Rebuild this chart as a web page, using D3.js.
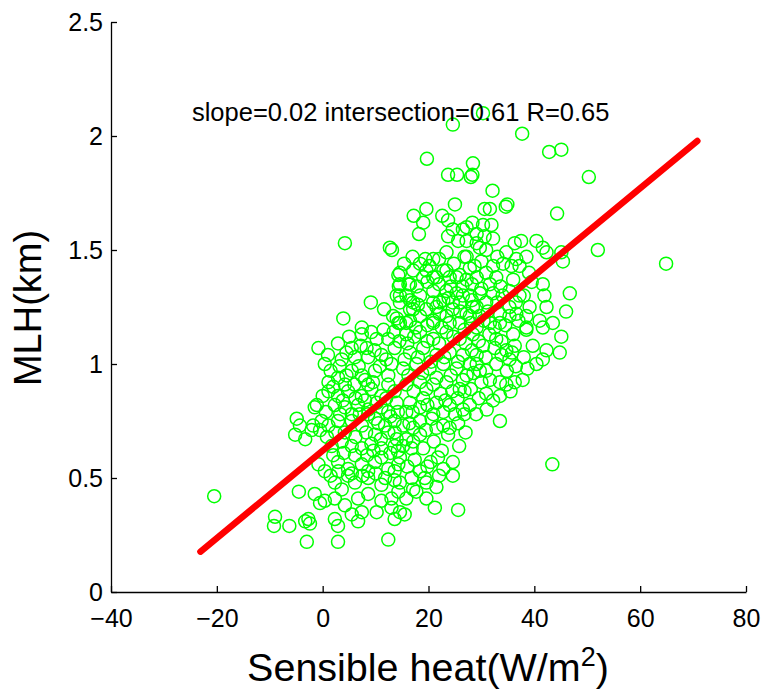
<!DOCTYPE html>
<html>
<head>
<meta charset="utf-8">
<style>
  body { margin: 0; background: white; font-family: "Liberation Sans", Arial, sans-serif; }
  svg { display: block; }
</style>
<script src="https://cdn.jsdelivr.net/npm/d3@7"></script>
</head>
<body>
<svg id="chart"></svg>
<script>

// sensible heat (W/m2), MLH (km)
let samples = [
  [-20.5,0.42],[-9.0,0.33],[-9.2,0.29],[-6.3,0.29],
  [-3.0,0.22],[2.9,0.22],[12.4,0.23],
  [-2.7,0.32],[-2.4,0.30],[-3.3,0.31],[2.3,0.32],[2.9,0.29],[5.5,0.34],[6.7,0.31],[7.4,0.35],[10.2,0.35],[13.0,0.37],[13.6,0.32],
  [-4.5,0.44],[-1.5,0.43],[0.4,0.40],[2.3,0.41],[4.2,0.38],[6.7,0.41],[8.6,0.43],[11.1,0.40],[13.0,0.41],[14.3,0.44],[-0.5,0.39],
  [2.3,0.48],[3.6,0.45],[6.1,0.48],[8.6,0.50],[11.1,0.47],[13.6,0.49],[4.8,0.51],[8.6,0.53],[13.6,0.53],
  [-0.8,0.56],[0.4,0.53],[2.9,0.57],[4.8,0.54],[7.4,0.56],[9.9,0.57],[12.4,0.54],[14.3,0.56],[6.1,0.60],[11.1,0.59],
  [1.7,0.64],[3.6,0.66],[5.5,0.64],[7.4,0.63],[9.2,0.65],[11.1,0.63],[13.6,0.64],
  [-4.9,0.76],[-4.3,0.73],[-5.2,0.69],[-3.3,0.67],[-1.8,0.73],[-0.5,0.71],[-2.1,0.71],
  [-0.2,0.75],[1.1,0.73],[2.9,0.75],[5.5,0.75],[7.4,0.73],[9.9,0.76],[11.8,0.73],[13.6,0.75],[4.2,0.70],[9.9,0.69],[13.6,0.70],
  [-1.1,0.82],[-1.5,0.81],[2.3,0.82],[4.2,0.81],[6.7,0.82],[8.6,0.80],[11.1,0.81],[5.5,0.78],[8.6,0.78],[12.4,0.79],
  [1.1,0.88],[2.9,0.86],[4.8,0.88],[7.4,0.86],[9.2,0.89],[11.1,0.86],[13.6,0.88],[4.2,0.91],[8.6,0.91],[12.4,0.91],
  [1.1,0.92],[2.9,0.94],[5.5,0.97],[7.4,0.95],[9.9,0.97],[12.4,0.95],
  [0.4,1.00],[3.6,1.02],[6.1,1.03],[8.6,1.03],[11.1,1.04],
  [-0.8,1.07],[2.9,1.09],[5.5,1.07],[8.3,1.07],[10.2,1.11],[12.4,1.11],[7.4,1.13],
  [7.4,1.16],[3.9,1.20],[9.1,1.27],[11.6,1.24],[14.0,1.20],[14.3,1.18],
  [4.2,1.53],[12.7,1.51],[13.1,1.50],[14.3,1.39],[14.4,1.34],[14.6,1.30],
  [24.6,2.05],[30.3,2.10],[37.7,2.01],[19.7,1.90],[42.8,1.93],[45.1,1.94],[50.3,1.82],[28.4,1.88],
  [23.7,1.83],[25.4,1.83],[28.0,1.82],[28.3,1.83],[32.1,1.76],[25.0,1.70],[19.6,1.68],[17.2,1.65],
  [19.0,1.62],[18.2,1.57],[30.6,1.68],[31.6,1.68],[34.6,1.69],[34.9,1.70],[44.3,1.66],[22.6,1.65],
  [23.7,1.63],[28.3,1.62],[30.3,1.61],[31.9,1.61],[24.6,1.59],[26.5,1.59],[27.2,1.60],[29.1,1.53],
  [23.7,1.56],[25.6,1.54],[27.2,1.54],[29.1,1.57],[30.6,1.56],[32.2,1.55],
  [23.4,1.49],[27.2,1.47],[29.7,1.51],[30.9,1.50],
  [36.3,1.53],[37.5,1.54],[40.4,1.54],[41.6,1.51],[42.3,1.49],
  [34.7,1.49],[36.6,1.46],[38.5,1.47],[34.1,1.44],[35.7,1.43],[37.2,1.43],
  [45.1,1.49],[45.4,1.45],[52.0,1.50],[64.9,1.44],
  [18.4,1.44],[20.2,1.43],[21.5,1.38],[22.8,1.41],[24.0,1.38],[25.9,1.39],[27.2,1.37],[29.1,1.38],[30.9,1.40],[32.8,1.38],[31.6,1.35],
  [16.2,1.35],[15.8,1.30],[18.4,1.30],[20.9,1.32],[23.4,1.32],[25.3,1.31],[27.8,1.30],[29.7,1.31],[32.2,1.31],[35.3,1.32],
  [37.2,1.30],[39.1,1.25],[41.6,1.35],[41.9,1.30],[42.3,1.25],[46.7,1.31],[46.0,1.23],
  [16.5,1.24],[19.6,1.24],[22.1,1.22],[24.6,1.24],[27.2,1.22],[29.7,1.21],[33.5,1.22],[35.3,1.21],[38.5,1.21],[41.0,1.19],[43.5,1.18],
  [20.9,1.18],[24.0,1.18],[31.6,1.18],[38.5,1.16],[15.8,1.18],
  [17.1,1.41],[19.0,1.38],[17.1,1.27],[22.1,1.27],[25.9,1.27],[29.1,1.25],[30.9,1.27],[35.3,1.25],[18.4,1.21],[25.9,1.18],
  [29.1,1.16],[33.5,1.18],[36.6,1.22],
  [14.6,1.40],[14.6,1.35],[16.5,1.35],[19.6,1.41],[20.9,1.46],[20.9,1.38],[23.4,1.41],[25.3,1.38],[26.8,1.47],[28.7,1.43],
  [14.0,1.30],[14.6,1.27],[16.5,1.28],[17.1,1.24],[20.9,1.27],[22.8,1.28],[24.6,1.27],[26.5,1.30],[28.4,1.25],
  [13.3,1.21],[14.6,1.18],[16.5,1.19],[20.9,1.19],[23.4,1.21],[27.8,1.21],
  [45.1,1.12],[44.8,1.05],[42.3,1.06],[39.7,1.08],[38.5,1.15],[41.6,1.16],[40.4,1.00],[41.6,1.02],
  [36.3,1.08],[35.3,1.02],[34.7,1.06],[32.8,1.11],[32.5,1.07],
  [37.8,0.93],[36.3,0.92],[34.7,0.91],[33.5,0.86],[30.9,0.87],[33.5,0.75],[43.4,0.56],
  [32.8,1.00],[30.9,0.97],[31.6,0.93],[33.5,0.92],
  [27.2,0.95],[29.1,1.00],[25.9,0.89],[26.8,0.88],
  [26.5,0.80],[26.8,0.78],[25.0,0.78],[24.0,0.82],
  [24.0,0.72],[23.7,0.69],[22.8,0.73],
  [24.6,0.57],[22.8,0.54],[24.6,0.51],
  [21.5,0.46],[19.6,0.41],[21.2,0.37],[25.6,0.36],
  [17.4,0.58],[19.3,0.50],[17.1,0.45],[15.8,0.41],[15.5,0.34],
  [18.4,0.75],[20.6,0.76],[17.1,0.72],[15.8,0.67],[16.8,0.63],
  [15.8,1.13],[18.4,1.14],[20.9,1.11],[23.4,1.14],[25.9,1.11],[28.4,1.13],[30.3,1.08],
  [16.5,1.05],[19.0,1.07],[21.5,1.04],[24.0,1.05],[26.5,1.04],[29.1,1.04],
  [15.2,0.98],[17.7,1.00],[20.2,0.98],[22.8,1.00],[25.3,0.98],[27.8,1.00],[29.7,0.97],
  [15.8,0.91],[18.4,0.92],[20.9,0.91],[23.4,0.92],
  [16.5,0.83],[19.0,0.85],[21.5,0.83],[22.8,0.79],[20.9,0.78],[15.8,0.79],[18.4,0.81],
  [15.2,0.73],[18.4,0.69],[15.2,0.64],[17.1,0.66],[14.6,0.59],[18.4,0.53],[14.6,0.48],[17.7,0.44],[19.6,0.48],[14.6,0.35],
  // dense core, overlapping rings
  [1.5,0.97],[3.2,0.99],[4.5,0.95],[6.8,0.99],[8.0,0.93],[9.5,0.92],[10.8,0.99],[13.0,1.00],
  [0.0,0.86],[2.0,0.90],[3.8,0.84],[6.0,0.91],[6.2,0.85],[8.0,0.84],[10.2,0.83],[12.0,0.85],[14.0,0.83],
  [0.6,0.79],[3.3,0.78],[7.0,0.78],[10.5,0.74],[12.8,0.77],[14.2,0.79],
  [0.8,0.68],[2.4,0.70],[6.2,0.68],[8.2,0.70],[11.0,0.67],[12.4,0.70],[14.0,0.67],
  [2.0,0.60],[4.0,0.61],[8.4,0.60],[9.6,0.62],[12.8,0.61],[14.2,0.62],
  [1.5,0.51],[5.5,0.52],[7.5,0.51],[10.0,0.52],[11.8,0.50],[3.0,0.53],
  [1.0,1.04],[4.5,1.05],[7.2,1.08],[9.8,1.06],[12.0,1.02],[13.6,1.07],[14.5,1.10],[5.0,1.12],[9.2,1.14],[11.5,1.15],[13.4,1.14],
  [16.0,1.09],[17.3,1.12],[19.8,1.10],[22.0,1.09],[24.7,1.12],[27.0,1.09],[29.5,1.10],[31.5,1.13],[33.8,1.10],[36.0,1.13],
  [15.5,1.02],[18.0,1.03],[20.5,1.01],[23.0,1.03],[25.6,1.01],[28.2,1.06],[30.8,1.03],[33.8,1.04],[35.8,1.05],[38.0,1.03],
  [16.2,0.95],[18.8,0.96],[21.5,0.94],[24.2,0.95],[26.5,0.93],[28.5,0.96],[30.0,0.92],[34.8,0.97],[36.5,0.99],[38.7,0.98],
  [17.2,0.88],[19.6,0.89],[22.3,0.87],[24.5,0.88],[28.0,0.89],[29.5,0.85],[32.2,0.84],[35.5,0.88],
  [17.0,0.79],[19.8,0.82],[23.2,0.84],[25.5,0.85],[27.8,0.82],[29.0,0.78],[31.0,0.80],
  [16.4,0.74],[19.5,0.71],[21.5,0.72],[25.6,0.74],[27.0,0.70],[21.0,0.66],[19.0,0.63],[22.5,0.62],[25.8,0.64],
  [16.0,0.55],[20.4,0.57],[21.8,0.59],[19.8,0.55],[22.0,0.51],[16.8,0.50],
  [17.6,1.16],[19.8,1.17],[22.5,1.16],[26.8,1.15],[28.0,1.18],[30.4,1.19],[32.5,1.16],[34.5,1.17],[37.0,1.19],
  [18.0,1.26],[21.5,1.25],[23.8,1.29],[26.0,1.23],[28.2,1.28],[31.2,1.23],[33.0,1.27],[34.0,1.30],[36.5,1.27],[38.0,1.30],
  [17.8,1.34],[19.8,1.36],[22.0,1.35],[24.2,1.34],[26.4,1.34],[28.2,1.35],[30.0,1.33],[33.6,1.34],[36.0,1.37],[39.5,1.36],
  [15.4,1.44],[17.0,1.47],[19.4,1.46],[22.0,1.46],[24.8,1.44],[27.8,1.42],[30.0,1.45],[32.2,1.43],[33.0,1.47],[39.0,1.40]
]

// fitted line end points
let fitX = [-23.1, 70.8]
let fitY = [0.177, 1.978]

let xTicks = [-40, -20, 0, 20, 40, 60, 80]
let yTicks = [0, 0.5, 1, 1.5, 2, 2.5]
let fitLabel = "slope=0.02 intersection=0.61 R=0.65"
let labelAt = [-24.7, 2.067]

let width = 765, height = 690

let svg = d3.select("#chart")
  .attr("width", width)
  .attr("height", height)

let x = d3.scaleLinear().domain([-40, 80]).range([111, 746])
let y = d3.scaleLinear().domain([0, 2.5]).range([592, 22])

// points
svg.append("g").selectAll("circle").data(samples)
  .enter().append("circle")
  .attr("cx", d => x(d[0]))
  .attr("cy", d => y(d[1]))
  .attr("r", 6.5)
  .attr("fill", "none")
  .attr("stroke", "#00ff00")
  .attr("stroke-width", 1.5)

// regression line
let line = d3.line().x(d => x(d[0])).y(d => y(d[1]))
svg.append("path")
  .attr("d", line(d3.zip(fitX, fitY)))
  .attr("stroke", "#ff0000")
  .attr("stroke-width", 6.5)
  .attr("stroke-linecap", "round")
  .attr("fill", "none")

// axes, ticks pointing inward
let xAxis = svg.append("g")
  .attr("transform", `translate(0,${y(0)})`)
  .call(d3.axisBottom(x).tickValues(xTicks).tickSizeInner(-6).tickSizeOuter(0)
    .tickPadding(17).tickFormat(d => d < 0 ? "\u2212" + Math.abs(d) : d))
let yAxis = svg.append("g")
  .attr("transform", `translate(${x(-40)},0)`)
  .call(d3.axisLeft(y).tickValues(yTicks).tickSizeInner(-6).tickSizeOuter(0)
    .tickPadding(8).tickFormat(d3.format("")))

for (let g of [xAxis, yAxis]) {
  g.select(".domain").attr("stroke", "#000").attr("stroke-width", 1.3)
  g.selectAll(".tick line").attr("stroke", "#000").attr("stroke-width", 1.3)
  g.selectAll(".tick text")
    .attr("fill", "#000")
    .style("font-family", "'Liberation Sans', Arial, sans-serif")
    .style("font-size", "25px")
}

// annotation
svg.append("text")
  .attr("x", x(labelAt[0]))
  .attr("y", y(labelAt[1]))
  .style("font-size", "25.5px")
  .text(fitLabel)

// axis titles
let xt = svg.append("text")
  .attr("x", 428)
  .attr("y", 681)
  .attr("text-anchor", "middle")
  .style("font-size", "39.5px")
xt.append("tspan").text("Sensible heat(W/m")
xt.append("tspan").attr("dy", -15).style("font-size", "27px").text("2")
xt.append("tspan").attr("dy", 15).text(")")

svg.append("text")
  .attr("transform", "translate(41,308) rotate(-90)")
  .attr("text-anchor", "middle")
  .style("font-size", "38px")
  .text("MLH(km)")

</script>
</body>
</html>
